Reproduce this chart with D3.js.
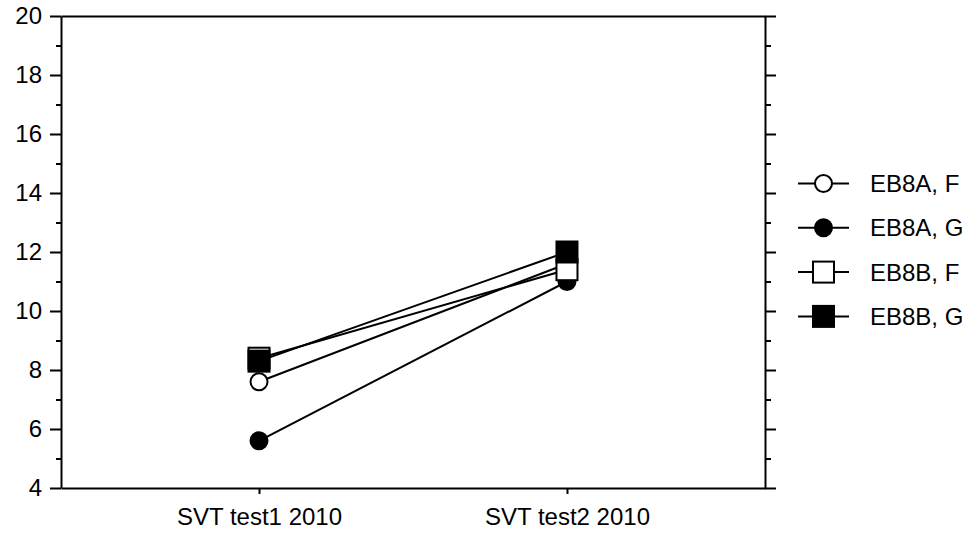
<!DOCTYPE html>
<html>
<head>
<meta charset="utf-8">
<script src="https://cdn.jsdelivr.net/npm/d3@7"></script>
<style>
  body { margin: 0; background: #fff; }
  svg { display: block; font-family: "Liberation Sans", Arial, sans-serif; }
  .axis path, .axis line { stroke: #000; stroke-width: 2; }
  .axis text { font-size: 24px; fill: #000; }
</style>
</head>
<body>
<div class="chart"></div>
<script>
// categories on the x axis
const tests = ["SVT test1 2010", "SVT test2 2010"];
// series names (legend order)
const seriesNames = ["EB8A, F", "EB8A, G", "EB8B, F", "EB8B, G"];
// values per series, one per test
const eb8aF = [7.6, 11.6];
const eb8aG = [5.6, 11.0];
const eb8bF = [8.4, 11.4];
const eb8bG = [8.3, 12.0];
// y ticks
const yMajorTicks = [4, 6, 8, 10, 12, 14, 16, 18, 20];
const yMinorTicks = [5, 7, 9, 11, 13, 15, 17, 19];

const seriesValues = [eb8aF, eb8aG, eb8bF, eb8bG];
const markerShapes = ["circle", "circle", "square", "square"];
const markerFills = ["#fff", "#000", "#fff", "#000"];

const width = 971;
const height = 534;
const margin = { top: 16, right: 206, bottom: 46, left: 61 };

const svg = d3
  .select(".chart")
  .append("svg")
  .attr("width", width)
  .attr("height", height);

svg.append("rect").attr("width", width).attr("height", height).attr("fill", "#fff");

const xScale = d3
  .scalePoint()
  .domain(tests)
  .range([margin.left, width - margin.right])
  .padding(0.643);

const yScale = d3
  .scaleLinear()
  .domain([4, 20])
  .range([height - margin.bottom, margin.top]);

// left axis: minor ticks first, then labelled major ticks
svg.append("g")
  .attr("class", "axis")
  .attr("transform", `translate(${margin.left},0)`)
  .call(d3.axisLeft(yScale).tickValues(yMinorTicks).tickSize(5).tickFormat(""))
  .call((g) => g.select(".domain").remove());

svg.append("g")
  .attr("class", "axis")
  .attr("transform", `translate(${margin.left},0)`)
  .call(d3.axisLeft(yScale).tickValues(yMajorTicks).tickSize(11).tickSizeOuter(0).tickPadding(8));

// right axis, ticks only
const rightX = width - margin.right;
svg.append("g")
  .attr("class", "axis")
  .attr("transform", `translate(${rightX},0)`)
  .call(d3.axisRight(yScale).tickValues(yMinorTicks).tickSize(6).tickFormat(""))
  .call((g) => g.select(".domain").remove());

svg.append("g")
  .attr("class", "axis")
  .attr("transform", `translate(${rightX},0)`)
  .call(d3.axisRight(yScale).tickValues(yMajorTicks).tickSize(11).tickSizeOuter(0).tickFormat(""));

// bottom axis with category ticks
svg.append("g")
  .attr("class", "axis")
  .attr("transform", `translate(0,${height - margin.bottom})`)
  .call(d3.axisBottom(xScale).tickSize(6).tickSizeOuter(0).tickPadding(14));

// top border
svg.append("g")
  .attr("class", "axis")
  .attr("transform", `translate(0,${margin.top})`)
  .call(d3.axisTop(xScale).tickValues([]).tickSizeOuter(0));

function drawMarker(g, shape, fill) {
  if (shape === "circle") {
    g.append("circle")
      .attr("r", 8.5)
      .attr("fill", fill)
      .attr("stroke", "#000")
      .attr("stroke-width", 2);
  } else {
    g.append("rect")
      .attr("x", -10.5)
      .attr("y", -10.5)
      .attr("width", 21)
      .attr("height", 21)
      .attr("fill", fill)
      .attr("stroke", "#000")
      .attr("stroke-width", 2);
  }
}

const line = d3
  .line()
  .x((d, i) => xScale(tests[i]))
  .y((d) => yScale(d));

seriesValues.forEach((vals, s) => {
  const g = svg.append("g").attr("class", "series");
  g.append("path")
    .datum(vals)
    .attr("d", line)
    .attr("fill", "none")
    .attr("stroke", "#000")
    .attr("stroke-width", 2);

  vals.forEach((v, i) => {
    const m = g.append("g")
      .attr("transform", `translate(${xScale(tests[i])},${yScale(v)})`);
    drawMarker(m, markerShapes[s], markerFills[s]);
  });
});

// legend
const legend = svg.append("g").attr("transform", "translate(798,183.5)");
seriesNames.forEach((name, s) => {
  const row = legend.append("g").attr("transform", `translate(0,${s * 44.3})`);
  row.append("line")
    .attr("x1", 0)
    .attr("x2", 51)
    .attr("stroke", "#000")
    .attr("stroke-width", 2);
  const m = row.append("g").attr("transform", "translate(25.5,0)");
  drawMarker(m, markerShapes[s], markerFills[s]);
  row.append("text")
    .attr("x", 72)
    .attr("dy", "0.35em")
    .style("font-size", "24px")
    .text(name);
});
</script>
</body>
</html>
